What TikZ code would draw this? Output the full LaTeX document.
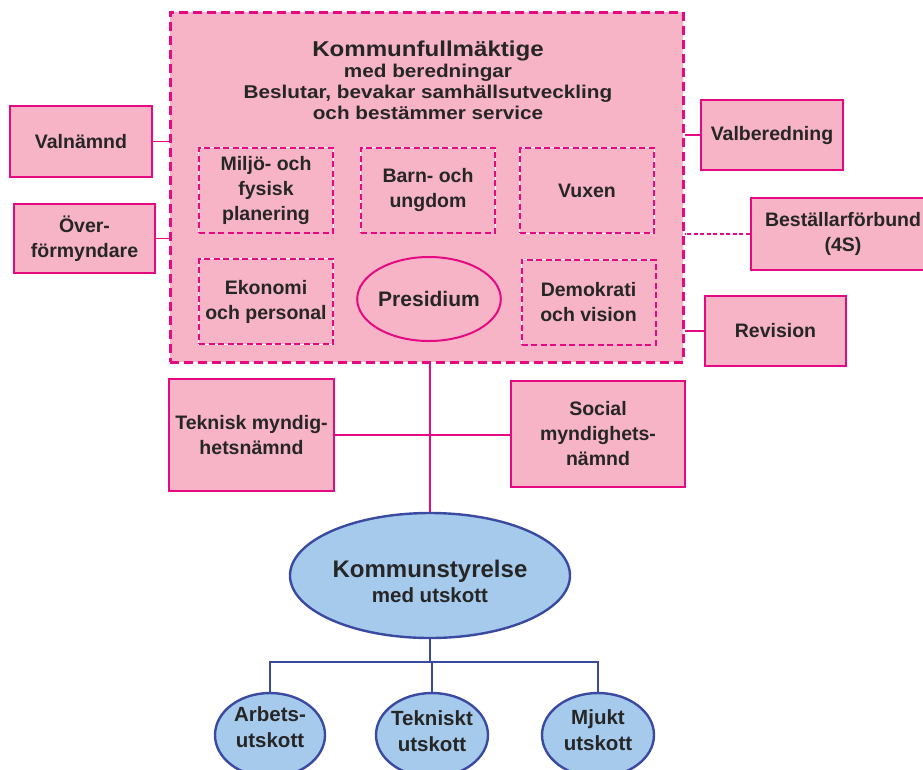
\documentclass[tikz,border=0pt]{standalone}
\usepackage{fontspec}
\setmainfont{Liberation Sans}
\newfontfamily\widefont{Liberation Sans}[FakeStretch=1.12]
\usetikzlibrary{shapes.geometric}
\definecolor{pinkfill}{RGB}{246,180,198}
\definecolor{mag}{RGB}{230,10,130}
\definecolor{txt}{RGB}{38,38,38}
\definecolor{bluefill}{RGB}{166,202,236}
\definecolor{blueline}{RGB}{58,74,160}
\tikzset{
  lbl/.style={font=\bfseries\fontsize{19.5}{25}\selectfont, text=txt, align=center, inner sep=0pt},
  outerbox/.style={draw=mag, line width=3pt, dash pattern=on 9pt off 5pt, fill=pinkfill, rectangle, inner sep=0pt},
  innerbox/.style={lbl, rectangle, fill=pinkfill, draw=mag, line width=2pt, dash pattern=on 6pt off 3.5pt,
     preaction={draw=white, line width=1.6pt, solid}, minimum width=134pt, minimum height=85pt},
  sidebox/.style={lbl, rectangle, fill=pinkfill, draw=mag, line width=2.2pt},
  magline/.style={draw=mag, line width=1.8pt},
  blueell/.style={lbl, ellipse, fill=bluefill, draw=blueline, line width=2.4pt, inner sep=0pt},
  blueline/.style={draw=blueline, line width=2pt}
}
\begin{document}
\begin{tikzpicture}[x=1pt,y=-1pt]
\useasboundingbox (0,0) rectangle (923,769);
% main box
\node[outerbox, minimum width=513pt, minimum height=350pt] (kf) at (426.5,187) {};
\node[lbl, font=\widefont\bfseries\fontsize{18.5}{21}\selectfont] (kftitle) at (428,80)
  {{\fontsize{21.5}{24}\selectfont Kommunfullmäktige}\\med beredningar\\Beslutar, bevakar samhällsutveckling\\och bestämmer service};
% inner boxes
\node[innerbox] (miljo) at (266,190) {Miljö- och\\fysisk\\planering};
\node[innerbox] (barn) at (428,190) {Barn- och\\ungdom};
\node[innerbox] (vuxen) at (587,190.5) {Vuxen};
\node[innerbox] (ekon) at (266,301.5) {Ekonomi\\och personal};
\node[lbl, ellipse, draw=mag, line width=2pt, fill=pinkfill, minimum width=134pt, minimum height=84pt, font=\bfseries\fontsize{21}{25}\selectfont] (pres) at (429,299) {Presidium};
\node[innerbox] (demo) at (588.5,302) {Demokrati\\och vision};
% side boxes
\node[sidebox, minimum width=142pt, minimum height=71pt] (valn) at (81,141.5) {Valnämnd};
\node[sidebox, minimum width=141pt, minimum height=69pt] (overf) at (84.5,238.5) {Över-\\förmyndare};
\node[sidebox, minimum width=142pt, minimum height=70pt] (valb) at (772,135) {Valberedning};
\node[sidebox, minimum width=184pt, minimum height=72pt] (best) at (843,234) {Beställarförbund\\(4S)};
\node[sidebox, minimum width=141pt, minimum height=70pt] (rev) at (775.5,331) {Revision};
\draw[magline] (valn.east) -- (valn.east -| kf.west);
\draw[magline] (overf.east) -- (overf.east -| kf.west);
\draw[magline] (valb.west) -- (valb.west -| kf.east);
\draw[magline, line width=1.4pt, dash pattern=on 4pt off 2.5pt] (best.west) -- (best.west -| kf.east);
\draw[magline] (rev.west) -- (rev.west -| kf.east);
% middle
\node[sidebox, minimum width=165pt, minimum height=112pt] (tekn) at (251.5,435) {Teknisk myndig-\\hetsnämnd};
\node[sidebox, minimum width=174pt, minimum height=106pt] (soc) at (598,434) {Social\\myndighets-\\nämnd};
\node[blueell, minimum width=280pt, minimum height=125pt] (ks) at (430,575.5) {};
\node[lbl] (kstext) at (430,581) {{\fontsize{24}{28}\selectfont Kommunstyrelse}\\[0pt]{\fontsize{20.5}{22}\selectfont med utskott}};
\draw[magline, line width=2pt] (ks.north |- kf.south) -- (ks.north);
\draw[magline] (tekn.east) -- (tekn.east -| soc.west);
% bottom
\node[blueell, minimum width=110pt, minimum height=84pt] (arb) at (270,735) {};
\node[blueell, minimum width=112pt, minimum height=84pt] (tek2) at (432,735) {};
\node[blueell, minimum width=112pt, minimum height=84pt] (mjuk) at (598,735) {};
\node[lbl, font=\bfseries\fontsize{20.5}{26}\selectfont] (arbt) at (270,727) {Arbets-\\utskott};
\node[lbl, font=\bfseries\fontsize{20.5}{26}\selectfont] (tek2t) at (432,731) {Tekniskt\\utskott};
\node[lbl, font=\bfseries\fontsize{20.5}{26}\selectfont] (mjukt) at (598,730) {Mjukt\\utskott};
\draw[blueline] (ks.south) -- ++(0,23) coordinate (j);
\draw[blueline] (arb.north) |- (j) -| (mjuk.north);
\draw[blueline] (j) -- (j -| tek2.north) -- (tek2.north);
\end{tikzpicture}
\end{document}
